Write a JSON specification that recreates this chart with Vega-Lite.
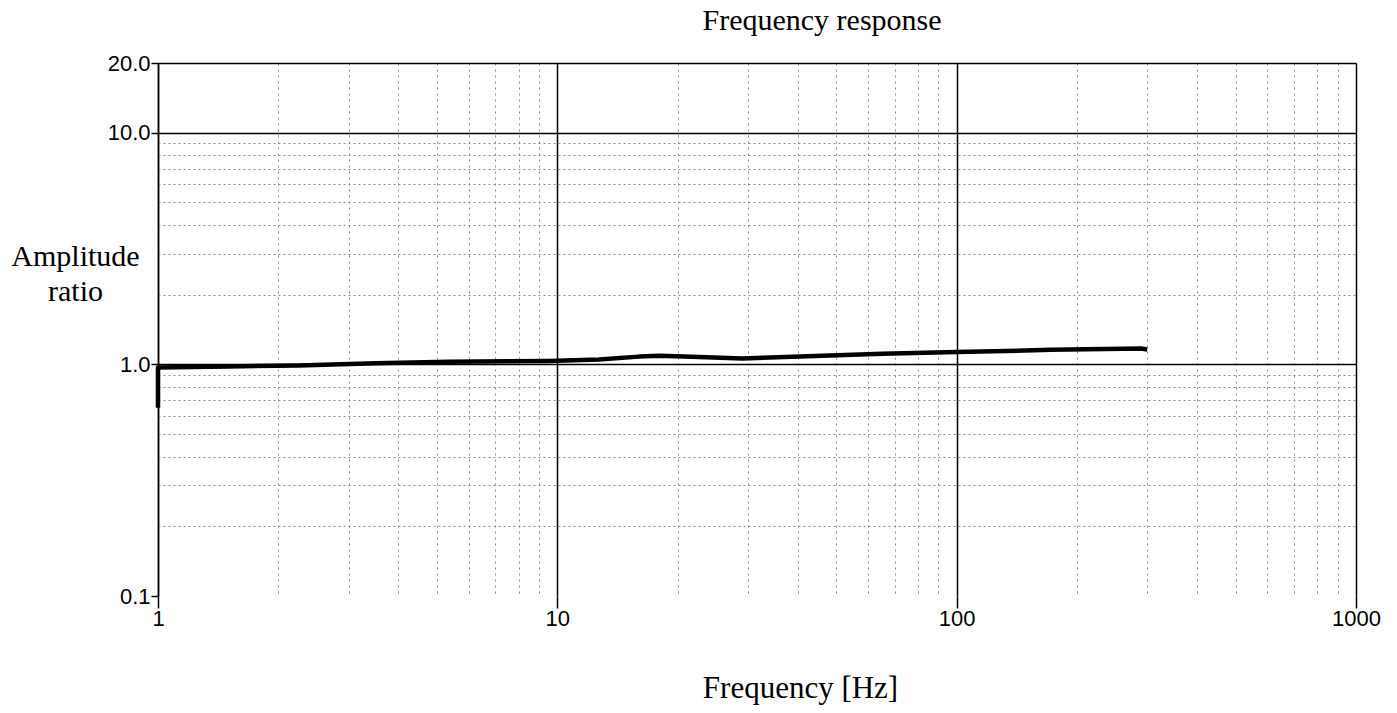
{
  "$schema": "https://vega.github.io/schema/vega-lite/v6.json",
  "width": 1198,
  "height": 533,
  "autosize": "none",
  "padding": {"left": 158, "top": 63, "right": 41, "bottom": 117},
  "background": "white",
  "title": {
    "text": "Frequency response",
    "font": "Liberation Serif",
    "fontSize": 30,
    "fontWeight": "normal",
    "color": "black",
    "anchor": "middle",
    "frame": "group",
    "dx": 65,
    "offset": 16
  },
  "data": {
    "values": [
      {"frequency": 1, "ratio": 0.65},
      {"frequency": 1, "ratio": 0.97},
      {"frequency": 1.5, "ratio": 0.98},
      {"frequency": 2.25, "ratio": 0.99},
      {"frequency": 3.5, "ratio": 1.01},
      {"frequency": 5.35, "ratio": 1.027},
      {"frequency": 9.5, "ratio": 1.035},
      {"frequency": 12.7, "ratio": 1.05},
      {"frequency": 16, "ratio": 1.08},
      {"frequency": 18, "ratio": 1.09},
      {"frequency": 22.7, "ratio": 1.076},
      {"frequency": 29, "ratio": 1.06},
      {"frequency": 40.5, "ratio": 1.08},
      {"frequency": 65, "ratio": 1.11},
      {"frequency": 100, "ratio": 1.13},
      {"frequency": 172, "ratio": 1.155},
      {"frequency": 290, "ratio": 1.17},
      {"frequency": 300, "ratio": 1.16}
    ]
  },
  "mark": {"type": "line", "color": "black", "strokeWidth": 4.5, "strokeCap": "butt", "strokeJoin": "round"},
  "encoding": {
    "x": {
      "field": "frequency",
      "type": "quantitative",
      "scale": {"type": "log", "domain": [1, 1000], "nice": false},
      "axis": {
        "values": [1,2,3,4,5,6,7,8,9,10,20,30,40,50,60,70,80,90,100,200,300,400,500,600,700,800,900,1000],
        "labelExpr": "indexof([1,10,100,1000], datum.value) >= 0 ? format(datum.value, 'd') : ''",
        "grid": true,
        "gridColor": {"condition": {"test": "indexof([1,10,100,1000], datum.value) >= 0", "value": "black"}, "value": "#8c8c8c"},
        "gridDash": {"condition": {"test": "indexof([1,10,100,1000], datum.value) >= 0", "value": []}, "value": [2, 4]},
        "gridWidth": {"condition": {"test": "indexof([1,10,100,1000], datum.value) >= 0", "value": 1.5}, "value": 1},
        "tickOpacity": {"condition": {"test": "indexof([1,10,100,1000], datum.value) >= 0", "value": 1}, "value": 0},
        "tickSize": 12,
        "tickWidth": 1.5,
        "tickColor": "black",
        "domain": false,
        "labelFont": "Liberation Sans",
        "labelFontSize": 22,
        "labelColor": "black",
        "labelPadding": 0,
        "labelFlush": false,
        "labelOverlap": false,
        "title": "Frequency [Hz]",
        "titleFont": "Liberation Serif",
        "titleFontSize": 31,
        "titleFontWeight": "normal",
        "titleColor": "black",
        "titleX": 642,
        "titleY": 101,
        "titleAlign": "center",
        "titleBaseline": "alphabetic"
      }
    },
    "y": {
      "field": "ratio",
      "type": "quantitative",
      "scale": {"type": "log", "domain": [0.1, 20], "nice": false},
      "axis": {
        "values": [0.1,0.2,0.3,0.4,0.5,0.6,0.7,0.8,0.9,1,2,3,4,5,6,7,8,9,10,20],
        "labelExpr": "indexof([0.1,1,10,20], datum.value) >= 0 ? format(datum.value, '.1f') : ''",
        "grid": true,
        "gridColor": {"condition": {"test": "indexof([1,10,20], datum.value) >= 0", "value": "black"}, "value": "#8c8c8c"},
        "gridDash": {"condition": {"test": "indexof([1,10,20], datum.value) >= 0", "value": []}, "value": [2, 3]},
        "gridWidth": {"condition": {"test": "indexof([1,10,20], datum.value) >= 0", "value": 1.5}, "value": 1},
        "gridOpacity": {"condition": {"test": "datum.value == 0.1", "value": 0}, "value": 1},
        "tickOpacity": {"condition": {"test": "indexof([0.1,1,10,20], datum.value) >= 0", "value": 1}, "value": 0},
        "tickSize": 7,
        "tickWidth": 1.5,
        "tickColor": "black",
        "domain": true,
        "domainColor": "black",
        "domainWidth": 1.5,
        "labelFont": "Liberation Sans",
        "labelFontSize": 22,
        "labelColor": "black",
        "labelPadding": 1,
        "labelFlush": false,
        "labelOverlap": false,
        "title": ["Amplitude", "ratio"],
        "titleFont": "Liberation Serif",
        "titleFontSize": 30,
        "titleFontWeight": "normal",
        "titleColor": "black",
        "titleAngle": 0,
        "titleX": -83,
        "titleY": 202,
        "titleAlign": "center",
        "titleBaseline": "alphabetic",
        "titleLineHeight": 35
      }
    },
    "order": {"value": null}
  },
  "config": {"view": {"stroke": null}}
}
